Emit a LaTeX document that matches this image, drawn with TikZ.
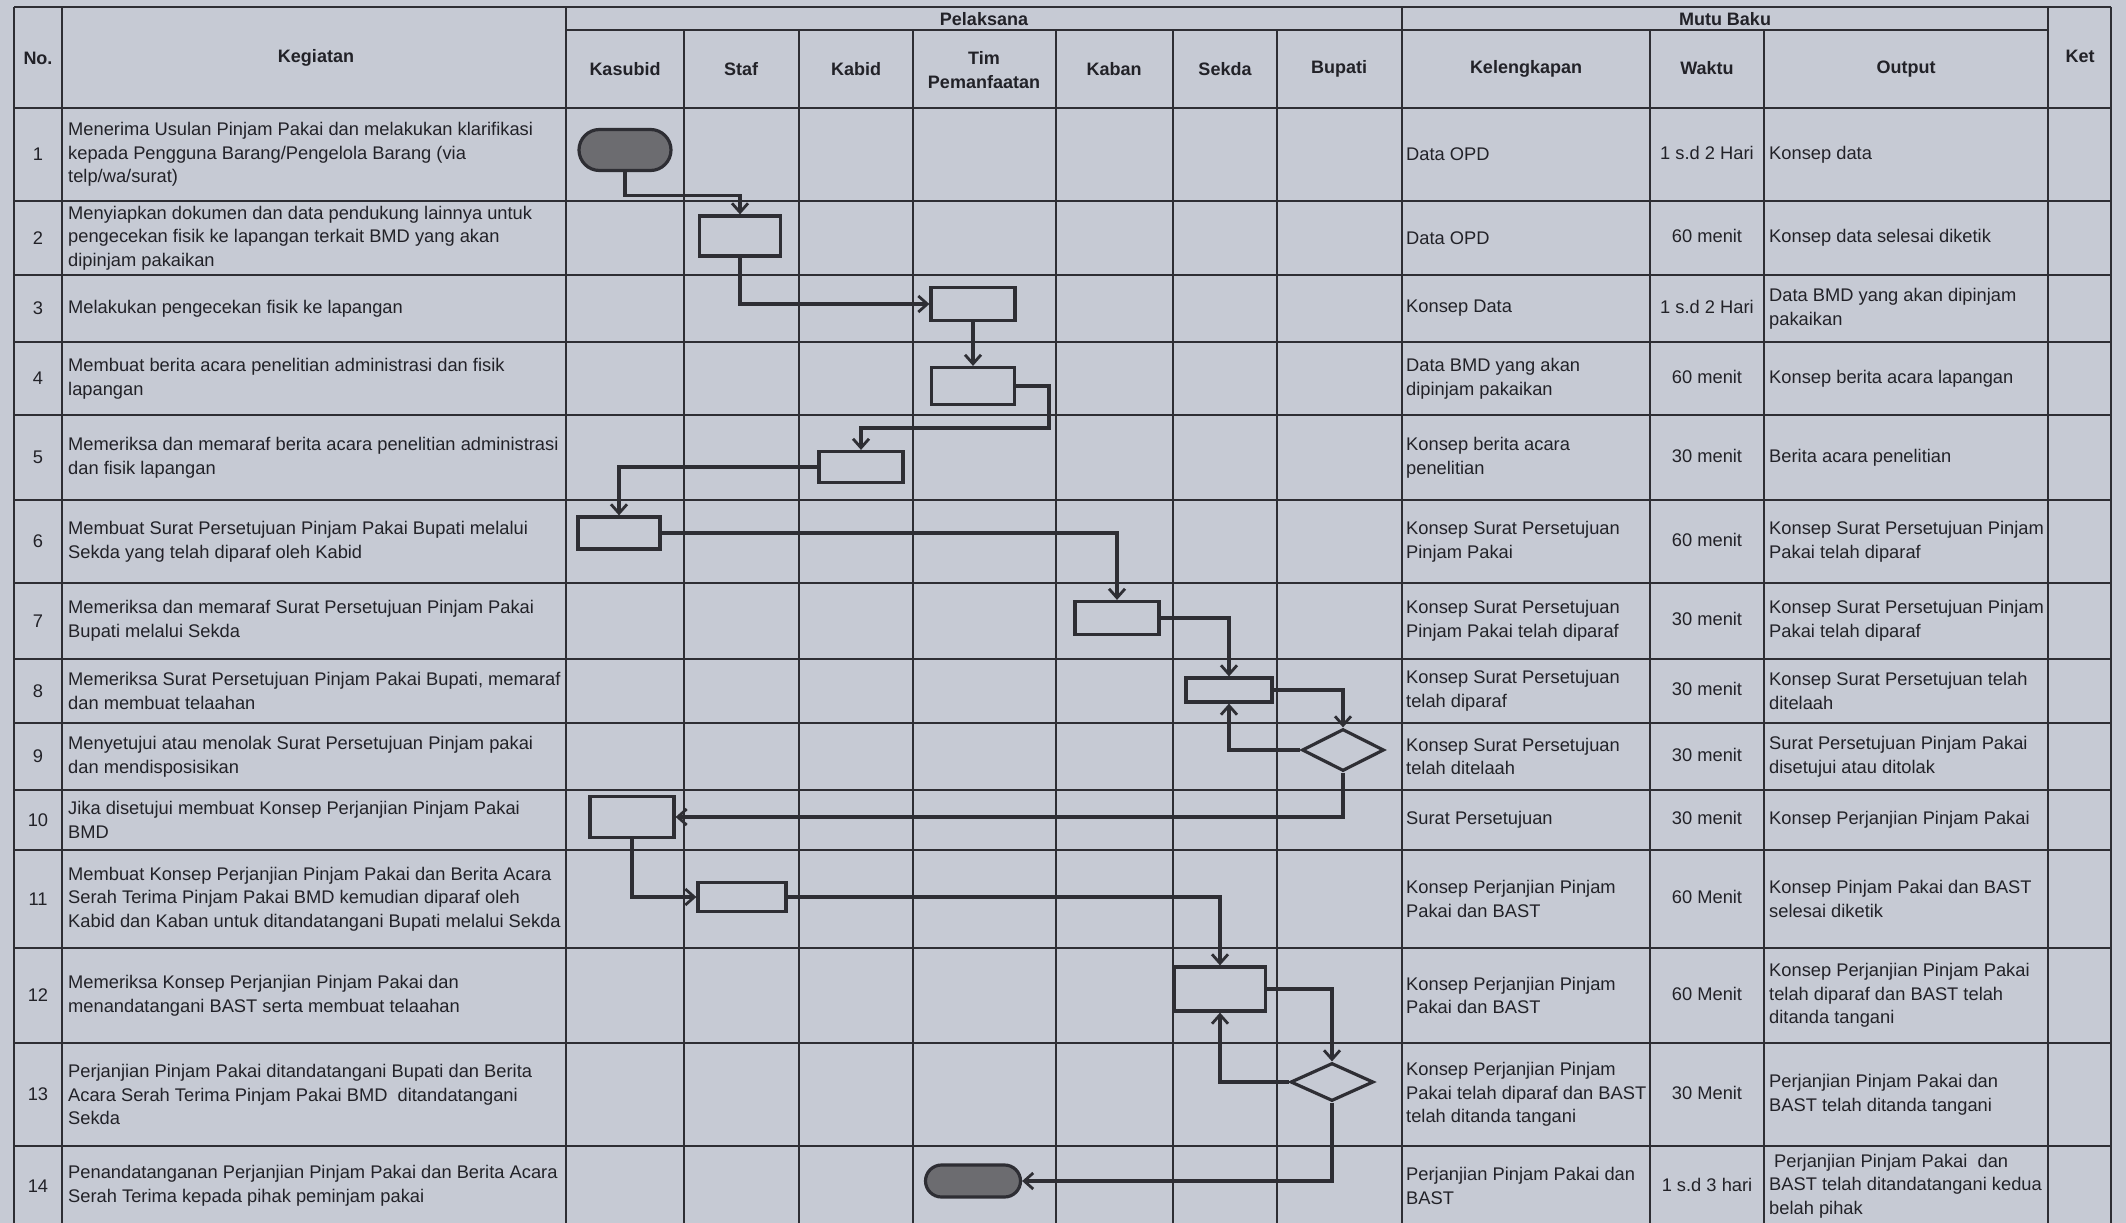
\documentclass[tikz,border=0pt]{standalone}
\usepackage{fontspec}
\setmainfont{Liberation Sans}
\usetikzlibrary{arrows.meta,shapes.geometric,shapes.misc}
\definecolor{bg}{RGB}{198,202,212}
\definecolor{ln}{RGB}{46,46,52}
\definecolor{tx}{RGB}{34,34,40}
\definecolor{termfill}{RGB}{108,108,112}
\begin{document}
\begin{tikzpicture}[x=1pt,y=-1pt,
  grid/.style={draw=ln,line width=2.8pt},
  cell/.style={anchor=west,align=left,inner sep=0pt,text=tx,font=\fontsize{18.3}{23.7}\selectfont},
  ctr/.style={anchor=center,align=center,inner sep=0pt,text=tx,font=\fontsize{18.3}{23.7}\selectfont},
  hdr/.style={anchor=center,align=center,inner sep=0pt,text=tx,font=\fontsize{18}{23.7}\selectfont\bfseries},
  proc/.style={draw=ln,line width=3.2pt,rectangle,inner sep=0pt},
  terminal/.style={draw=ln,line width=3.2pt,rounded rectangle,fill=termfill,inner sep=0pt},
  decision/.style={draw=ln,line width=3.2pt,diamond,inner sep=0pt},
  flow/.style={draw=ln,line width=3.2pt,-{Straight Barb[length=9pt,width=16pt,line width=2.8pt]}}
]
\fill[bg] (0,0) rectangle (2126,1223);
\useasboundingbox (0,0) rectangle (2126,1223);

% ---------- grid ----------
\foreach \x in {14,62,566,1402,2048,2111} \draw[grid] (\x,7) -- (\x,1223);
\foreach \x in {684,799,913,1056,1173,1277,1650,1764} \draw[grid] (\x,30) -- (\x,1223);
\draw[grid] (14,7) -- (2111,7);
\draw[grid] (566,30) -- (2048,30);
\foreach \y in {108,201,275,342,415,500,583,659,723,790,850,948,1043,1146} \draw[grid] (14,\y) -- (2111,\y);

% ---------- header ----------
\node[hdr] (hno) at (38,58) {No.};
\node[hdr] (hkeg) at (316,58) {Kegiatan};
\node[hdr] (hpel) at (984,19) {Pelaksana};
\node[hdr] (hmutu) at (1725,19) {Mutu Baku};
\node[hdr] (hket) at (2080,56) {Ket};
\node[hdr] (hkasubid) at (625,69) {Kasubid};
\node[hdr] (hstaf) at (741,69) {Staf};
\node[hdr] (hkabid) at (856,69) {Kabid};
\node[hdr] (htim) at (984,70) {Tim\\Pemanfaatan};
\node[hdr] (hkaban) at (1114,69) {Kaban};
\node[hdr] (hsekda) at (1225,69) {Sekda};
\node[hdr] (hbupati) at (1339,69) {Bupati};
\node[hdr] (hkel) at (1526,69) {Kelengkapan};
\node[hdr] (hwaktu) at (1707,68) {Waktu};
\node[hdr] (houtput) at (1906,69) {Output};

% ---------- numbers ----------
\node[ctr] (n1) at (38,154.5) {1};
\node[ctr] (n2) at (38,238) {2};
\node[ctr] (n3) at (38,308.5) {3};
\node[ctr] (n4) at (38,378.5) {4};
\node[ctr] (n5) at (38,457.5) {5};
\node[ctr] (n6) at (38,541.5) {6};
\node[ctr] (n7) at (38,621) {7};
\node[ctr] (n8) at (38,691) {8};
\node[ctr] (n9) at (38,756.5) {9};
\node[ctr] (n10) at (38,820) {10};
\node[ctr] (n11) at (38,899) {11};
\node[ctr] (n12) at (38,995.5) {12};
\node[ctr] (n13) at (38,1094.5) {13};
\node[ctr] (n14) at (38,1186) {14};

% ---------- kegiatan ----------
\node[cell] (k1) at (68,154.5) {Menerima Usulan Pinjam Pakai dan melakukan klarifikasi\\kepada Pengguna Barang/Pengelola Barang (via\\telp/wa/surat)};
\node[cell] (k2) at (68,238) {Menyiapkan dokumen dan data pendukung lainnya untuk\\pengecekan fisik ke lapangan terkait BMD yang akan\\dipinjam pakaikan};
\node[cell] (k3) at (68,308.5) {Melakukan pengecekan fisik ke lapangan};
\node[cell] (k4) at (68,378.5) {Membuat berita acara penelitian administrasi dan fisik\\lapangan};
\node[cell] (k5) at (68,457.5) {Memeriksa dan memaraf berita acara penelitian administrasi\\dan fisik lapangan};
\node[cell] (k6) at (68,541.5) {Membuat Surat Persetujuan Pinjam Pakai Bupati melalui\\Sekda yang telah diparaf oleh Kabid};
\node[cell] (k7) at (68,621) {Memeriksa dan memaraf Surat Persetujuan Pinjam Pakai\\Bupati melalui Sekda};
\node[cell] (k8) at (68,691) {Memeriksa Surat Persetujuan Pinjam Pakai Bupati, memaraf\\dan membuat telaahan};
\node[cell] (k9) at (68,756.5) {Menyetujui atau menolak Surat Persetujuan Pinjam pakai\\dan mendisposisikan};
\node[cell] (k10) at (68,820) {Jika disetujui membuat Konsep Perjanjian Pinjam Pakai\\BMD};
\node[cell] (k11) at (68,899) {Membuat Konsep Perjanjian Pinjam Pakai dan Berita Acara\\Serah Terima Pinjam Pakai BMD kemudian diparaf oleh\\Kabid dan Kaban untuk ditandatangani Bupati melalui Sekda};
\node[cell] (k12) at (68,995.5) {Memeriksa Konsep Perjanjian Pinjam Pakai dan\\menandatangani BAST serta membuat telaahan};
\node[cell] (k13) at (68,1094.5) {Perjanjian Pinjam Pakai ditandatangani Bupati dan Berita\\Acara Serah Terima Pinjam Pakai BMD\ \ ditandatangani\\Sekda};
\node[cell] (k14) at (68,1186) {Penandatanganan Perjanjian Pinjam Pakai dan Berita Acara\\Serah Terima kepada pihak peminjam pakai};

% ---------- kelengkapan ----------
\node[cell] (l1) at (1406,154.5) {Data OPD};
\node[cell] (l2) at (1406,238) {Data OPD};
\node[cell] (l3) at (1406,308.5) {Konsep Data};
\node[cell] (l4) at (1406,378.5) {Data BMD yang akan\\dipinjam pakaikan};
\node[cell] (l5) at (1406,457.5) {Konsep berita acara\\penelitian};
\node[cell] (l6) at (1406,541.5) {Konsep Surat Persetujuan\\Pinjam Pakai};
\node[cell] (l7) at (1406,621) {Konsep Surat Persetujuan\\Pinjam Pakai telah diparaf};
\node[cell] (l8) at (1406,691) {Konsep Surat Persetujuan\\telah diparaf};
\node[cell] (l9) at (1406,756.5) {Konsep Surat Persetujuan\\telah ditelaah};
\node[cell] (l10) at (1406,820) {Surat Persetujuan};
\node[cell] (l11) at (1406,899) {Konsep Perjanjian Pinjam\\Pakai dan BAST};
\node[cell] (l12) at (1406,995.5) {Konsep Perjanjian Pinjam\\Pakai dan BAST};
\node[cell] (l13) at (1406,1094.5) {Konsep Perjanjian Pinjam\\Pakai telah diparaf dan BAST\\telah ditanda tangani};
\node[cell] (l14) at (1406,1186) {Perjanjian Pinjam Pakai dan\\BAST};

% ---------- waktu ----------
\node[ctr] (w1) at (1707,153) {1 s.d 2 Hari};
\node[ctr] (w2) at (1707,236) {60 menit};
\node[ctr] (w3) at (1707,307) {1 s.d 2 Hari};
\node[ctr] (w4) at (1707,377) {60 menit};
\node[ctr] (w5) at (1707,456) {30 menit};
\node[ctr] (w6) at (1707,540) {60 menit};
\node[ctr] (w7) at (1707,619) {30 menit};
\node[ctr] (w8) at (1707,689) {30 menit};
\node[ctr] (w9) at (1707,755) {30 menit};
\node[ctr] (w10) at (1707,818) {30 menit};
\node[ctr] (w11) at (1707,897) {60 Menit};
\node[ctr] (w12) at (1707,994) {60 Menit};
\node[ctr] (w13) at (1707,1093) {30 Menit};
\node[ctr] (w14) at (1707,1185) {1 s.d 3 hari};

% ---------- output ----------
\node[cell] (o1) at (1769,154.5) {Konsep data};
\node[cell] (o2) at (1769,238) {Konsep data selesai diketik};
\node[cell] (o3) at (1769,308.5) {Data BMD yang akan dipinjam\\pakaikan};
\node[cell] (o4) at (1769,378.5) {Konsep berita acara lapangan};
\node[cell] (o5) at (1769,457.5) {Berita acara penelitian};
\node[cell] (o6) at (1769,541.5) {Konsep Surat Persetujuan Pinjam\\Pakai telah diparaf};
\node[cell] (o7) at (1769,621) {Konsep Surat Persetujuan Pinjam\\Pakai telah diparaf};
\node[cell] (o8) at (1769,691) {Konsep Surat Persetujuan telah\\ditelaah};
\node[cell] (o9) at (1769,756.5) {Surat Persetujuan Pinjam Pakai\\disetujui atau ditolak};
\node[cell] (o10) at (1769,820) {Konsep Perjanjian Pinjam Pakai};
\node[cell] (o11) at (1769,899) {Konsep Pinjam Pakai dan BAST\\selesai diketik};
\node[cell] (o12) at (1769,995.5) {Konsep Perjanjian Pinjam Pakai\\telah diparaf dan BAST telah\\ditanda tangani};
\node[cell] (o13) at (1769,1094.5) {Perjanjian Pinjam Pakai dan\\BAST telah ditanda tangani};
\node[cell] (o14) at (1769,1186) {\hspace{5pt}Perjanjian Pinjam Pakai\ \ dan\\BAST telah ditandatangani kedua\\belah pihak};

% ---------- flow shapes ----------
\node[terminal,minimum width=92pt,minimum height=41pt] (t1) at (625,150) {};
\node[proc,minimum width=81pt,minimum height=40pt] (b2) at (740,236) {};
\node[proc,minimum width=84pt,minimum height=33pt] (b3) at (973,304) {};
\node[proc,minimum width=83pt,minimum height=37pt] (b4) at (973,386) {};
\node[proc,minimum width=84pt,minimum height=31pt] (b5) at (861,467) {};
\node[proc,minimum width=82pt,minimum height=32pt] (b6) at (619,533) {};
\node[proc,minimum width=84pt,minimum height=33pt] (b7) at (1117,618) {};
\node[proc,minimum width=86pt,minimum height=24pt] (b8) at (1229,690) {};
\node[decision,minimum width=82pt,minimum height=42pt] (d9) at (1343,750) {};
\node[proc,minimum width=84pt,minimum height=41pt] (b10) at (632,817) {};
\node[proc,minimum width=88pt,minimum height=29pt] (b11) at (742,897) {};
\node[proc,minimum width=91pt,minimum height=44pt] (b12) at (1220,989) {};
\node[decision,minimum width=83pt,minimum height=38pt] (d13) at (1332,1082) {};
\node[terminal,minimum width=95pt,minimum height=32pt] (t14) at (973,1181) {};

\coordinate (j4) at (1049,428);

% ---------- connectors ----------
\draw[flow] (t1.south) -- ++(0,23) -| (b2.north);
\draw[flow] (b2.south) |- (b3.west);
\draw[flow] (b3.south) -- (b4.north);
\draw[flow] (b4.east) -| (j4) -| (b5.north);
\draw[flow] (b5.west) -| (b6.north);
\draw[flow] (b6.east) -| (b7.north);
\draw[flow] (b7.east) -| (b8.north);
\draw[flow] (b8.east) -| (d9.north);
\draw[flow] (d9.west) -| (b8.south);
\draw[flow] (d9.south) |- (b10.east);
\draw[flow] (b10.south) |- (b11.west);
\draw[flow] (b11.east) -| (b12.north);
\draw[flow] (b12.east) -| (d13.north);
\draw[flow] (d13.west) -| (b12.south);
\draw[flow] (d13.south) |- (t14.east);
\end{tikzpicture}
\end{document}
